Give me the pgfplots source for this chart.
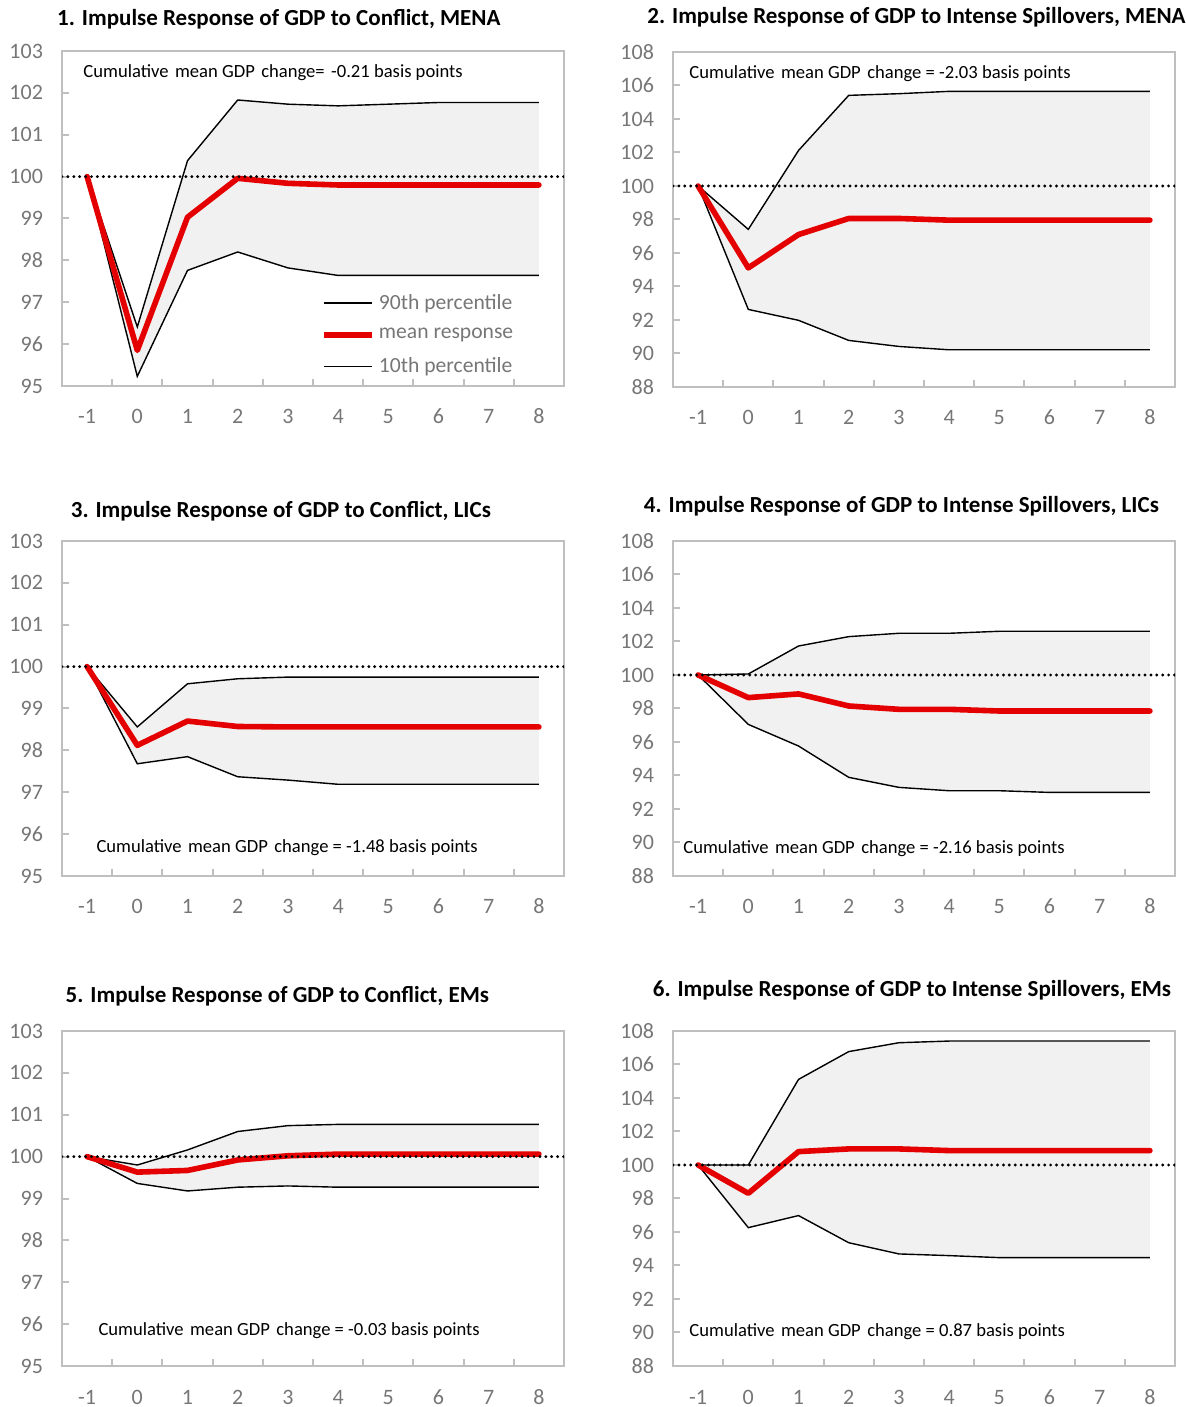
\documentclass[border=0pt]{standalone}
\usepackage{fontspec}
\setmainfont{Carlito}
\usepackage{pgfplots}
\pgfplotsset{compat=1.18}
\usepackage{pgfplotstable}
\usepgfplotslibrary{fillbetween}

\definecolor{framegray}{RGB}{191,191,191}
\definecolor{labgray}{RGB}{118,118,118}
\definecolor{bandgray}{RGB}{241,241,241}
\definecolor{irfred}{RGB}{228,0,0}

% columns: horizon, 90th percentile, mean response, 10th percentile
\pgfplotstableread{
h  up     mean   lo
-1 100    100    100
0  96.41  95.85  95.23
1  100.38 99.03  97.76
2  101.83 99.96  98.20
3  101.73 99.84  97.82
4  101.69 99.80  97.64
5  101.73 99.80  97.64
6  101.77 99.80  97.64
7  101.77 99.80  97.64
8  101.77 99.80  97.64
}\tabA
\pgfplotstableread{
h  up     mean   lo
-1 100    100    100
0  97.41  95.11  92.63
1  102.12 97.10  91.98
2  105.41 98.06  90.78
3  105.51 98.06  90.42
4  105.65 97.96  90.22
5  105.65 97.96  90.22
6  105.65 97.96  90.22
7  105.65 97.96  90.22
8  105.65 97.96  90.22
}\tabB
\pgfplotstableread{
h  up     mean   lo
-1 100    100    100
0  98.56  98.12  97.68
1  99.59  98.70  97.85
2  99.71  98.57  97.37
3  99.75  98.56  97.29
4  99.75  98.56  97.19
5  99.75  98.56  97.19
6  99.75  98.56  97.19
7  99.75  98.56  97.19
8  99.75  98.56  97.19
}\tabC
\pgfplotstableread{
h  up     mean   lo
-1 100    100    100
0  100.06 98.65  97.05
1  101.73 98.87  95.76
2  102.29 98.15  93.89
3  102.49 97.95  93.29
4  102.49 97.95  93.09
5  102.61 97.85  93.09
6  102.61 97.85  92.99
7  102.61 97.85  92.99
8  102.61 97.85  92.99
}\tabD
\pgfplotstableread{
h  up     mean   lo
-1 100    100    100
0  99.80  99.63  99.36
1  100.16 99.67  99.18
2  100.60 99.92  99.27
3  100.74 100.02 99.30
4  100.77 100.06 99.27
5  100.77 100.06 99.27
6  100.77 100.06 99.27
7  100.77 100.06 99.27
8  100.77 100.06 99.27
}\tabE
\pgfplotstableread{
h  up     mean   lo
-1 100    100    100
0  100.00 98.31  96.26
1  105.11 100.80 96.98
2  106.77 100.96 95.36
3  107.30 100.96 94.69
4  107.40 100.86 94.59
5  107.40 100.86 94.47
6  107.40 100.86 94.47
7  107.40 100.86 94.47
8  107.40 100.86 94.47
}\tabF

\pgfplotsset{
  every axis title shift=0pt,
  irf/.style={
    scale only axis, width=251pt, height=167.5pt,
    anchor=south west,
    xmin=-1.5, xmax=8.5,
    xtick={-1,0,...,8},
    xticklabels={-1,0,1,2,3,4,5,6,7,8},
    minor xtick={-0.5,0.5,...,7.5},
    tick pos=left, tick align=inside,
    major tick length=3.5pt, minor tick length=3.5pt,
    axis line style={draw=framegray, line width=1pt},
    tick style={draw=framegray, line width=1pt},
    major x tick style={draw=none},
    ticklabel style={font=\fontsize{11}{13}\selectfont, text=labgray},
    xticklabel style={anchor=base, inner sep=0pt, yshift=-19pt},
    yticklabel style={anchor=east, xshift=-6pt},
    /pgf/number format/assume math mode=true,
    title style={anchor=base, inner sep=0pt, font=\fontsize{11.5}{13}\selectfont\bfseries},
    clip=true,
  },
  lowy/.style={ymin=95, ymax=103, ytick={95,96,...,103}},
  highy/.style={ymin=88, ymax=108, ytick={88,90,...,108}},
}

\newcommand{\band}[1]{%
  \addplot[name path=up, draw=none, forget plot] table[x=h, y=up] {#1};
  \addplot[name path=lo, draw=none, forget plot] table[x=h, y=lo] {#1};
  \addplot[bandgray, forget plot] fill between[of=up and lo];
  \addplot[black, line width=0.7pt, forget plot] table[x=h, y=up] {#1};
  \addplot[black, line width=0.7pt, forget plot] table[x=h, y=lo] {#1};
  \addplot[irfred, line width=2.8pt, line cap=round, line join=round, forget plot] table[x=h, y=mean] {#1};
  \addplot[black, line width=1.6pt, dash pattern=on 0pt off 2.95pt, line cap=round, forget plot] coordinates {(-1.5,100) (8.5,100)};
}
\newcommand{\note}[3]{\node[anchor=west, font=\fontsize{9.3}{11}\selectfont, inner sep=0pt] at (rel axis cs:#1,#2) {#3};}

\begin{document}
\begin{tikzpicture}
\path (0,0) rectangle (592.5pt,703.5pt);

\begin{axis}[irf, lowy, at={(31pt,510.5pt)},
  title={1. Impulse Response of GDP to Conflict, MENA},
  title style={at={(0.432,1)}, yshift=12.9pt},
  legend style={at={(0.515,0.018)}, anchor=south west, draw=none, fill=none,
    font=\fontsize{10.8}{12}\selectfont, text=labgray, row sep=4pt, inner sep=0pt},
  legend cell align=left,
  legend image code/.code={\draw[#1] (0pt,0pt) -- (24pt,0pt);}]
\band{\tabA}
\addlegendimage{black, line width=0.7pt}
\addlegendentry{90th percentile}
\addlegendimage{irfred, line width=3pt}
\addlegendentry{mean response}
\addlegendimage{black, line width=0.7pt}
\addlegendentry{10th percentile}
\note{0.042}{0.934}{Cumulative \hspace{0.12em}mean GDP \hspace{0.12em}change= \hspace{0.12em}-0.21 basis points}
\end{axis}

\begin{axis}[irf, highy, at={(336.5pt,510pt)},
  title={2. Impulse Response of GDP to Intense Spillovers, MENA},
  title style={at={(0.485,1)}, yshift=14.4pt}]
\band{\tabB}
\note{0.032}{0.934}{Cumulative \hspace{0.12em}mean GDP \hspace{0.12em}change = -2.03 basis points}
\end{axis}

\begin{axis}[irf, lowy, at={(31pt,265.5pt)},
  title={3. Impulse Response of GDP to Conflict, LICs},
  title style={at={(0.436,1)}, yshift=11.9pt}]
\band{\tabC}
\note{0.068}{0.084}{Cumulative \hspace{0.12em}mean GDP \hspace{0.12em}change = -1.48 basis points}
\end{axis}

\begin{axis}[irf, highy, at={(336.5pt,265.5pt)},
  title={4. Impulse Response of GDP to Intense Spillovers, LICs},
  title style={at={(0.455,1)}, yshift=14.4pt}]
\band{\tabD}
\note{0.02}{0.081}{Cumulative \hspace{0.12em}mean GDP \hspace{0.12em}change = -2.16 basis points}
\end{axis}

\begin{axis}[irf, lowy, at={(31pt,20.5pt)},
  title={5. Impulse Response of GDP to Conflict, EMs},
  title style={at={(0.429,1)}, yshift=14.1pt}]
\band{\tabE}
\note{0.072}{0.107}{Cumulative \hspace{0.12em}mean GDP \hspace{0.12em}change = -0.03 basis points}
\end{axis}

\begin{axis}[irf, highy, at={(336.5pt,20.5pt)},
  title={6. Impulse Response of GDP to Intense Spillovers, EMs},
  title style={at={(0.476,1)}, yshift=17.1pt}]
\band{\tabF}
\note{0.032}{0.104}{Cumulative \hspace{0.12em}mean GDP \hspace{0.12em}change = 0.87 basis points}
\end{axis}
\end{tikzpicture}
\end{document}
